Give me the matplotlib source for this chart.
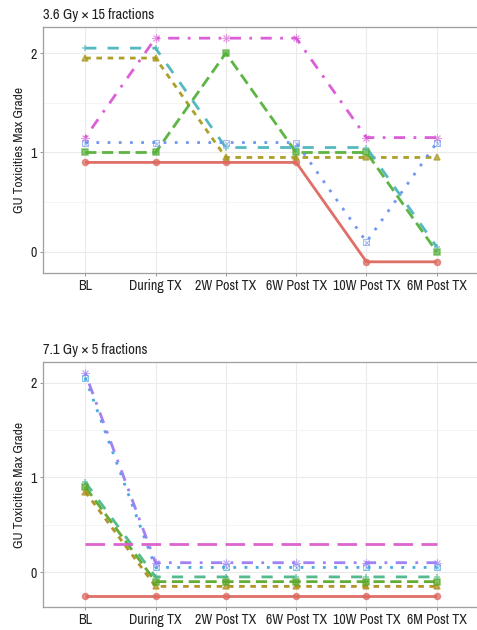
import numpy as np
import matplotlib.pyplot as plt
from matplotlib import font_manager

# cerca una famiglia stretta
stretti = [f for f in font_manager.fontManager.ttflist
           if "Narrow" in f.name or "ondensed" in f.name or f.stretch in ("condensed", "semi-condensed")]
nomi_stretti = sorted({(f.name, f.stretch) for f in stretti})
if nomi_stretti:
    plt.rcParams["font.family"] = [nomi_stretti[0][0], "DejaVu Sans"]
    plt.rcParams["font.stretch"] = nomi_stretti[0][1]

timepoints = ["BL", "During TX", "2W Post TX", "6W Post TX", "10W Post TX", "6M Post TX"]

# 3.6 Gy x 15 fractions (gia' sfalsati verticalmente)
top_red     = [0.90, 0.90, 0.90, 0.90, -0.10, -0.10]
top_olive   = [1.95, 1.95, 0.95, 0.95, 0.95, 0.95]
top_green   = [1.00, 1.00, 2.00, 1.00, 1.00, 0.00]
top_cyan    = [2.05, 2.05, 1.05, 1.05, 1.05, 0.05]
top_blue    = [1.10, 1.10, 1.10, 1.10, 0.10, 1.10]
top_magenta = [1.15, 2.15, 2.15, 2.15, 1.15, 1.15]

# 7.1 Gy x 5 fractions
bot_red     = [-0.25, -0.25, -0.25, -0.25, -0.25, -0.25]
bot_olive   = [0.85, -0.15, -0.15, -0.15, -0.15, -0.15]
bot_green   = [0.90, -0.10, -0.10, -0.10, -0.10, -0.10]
bot_teal    = [0.95, -0.05, -0.05, -0.05, -0.05, -0.05]
bot_blue    = [2.05, 0.05, 0.05, 0.05, 0.05, 0.05]
bot_purple  = [2.10, 0.10, 0.10, 0.10, 0.10, 0.10]
bot_magenta = [0.30, 0.30, 0.30, 0.30, 0.30, 0.30]

dash_types = [None, (2, 2), (4, 2), (4, 4), (1, 3), (1, 3, 4, 3), (7, 3)]
shapes = ["o", "^", "s", "+", "boxx", "ast", None]

top_series = [top_red, top_olive, top_green, top_cyan, top_blue, top_magenta]
top_colors = ["#DD685F", "#A89A1E", "#55B13A", "#4DB6BD", "#6A93F0", "#D957D6"]

bot_series = [bot_red, bot_olive, bot_green, bot_teal, bot_blue, bot_purple, bot_magenta]
bot_colors = ["#DD685F", "#B08E1E", "#5AA92A", "#4CB788", "#3FA6E0", "#9C7BF5", "#DB5CCB"]

W, H = 477, 630
fig = plt.figure(figsize=(W / 72, H / 72), dpi=72)


def pannello(top_px, bot_px, serie, colori, titolo):
    ax = fig.add_axes([43 / W, 1 - bot_px / H, 436 / W, (bot_px - top_px) / H])
    x = np.arange(1, len(timepoints) + 1)
    lw = 2.8
    for i, (y, c) in enumerate(zip(serie, colori)):
        ln, = ax.plot(x, y, color=c, lw=lw, alpha=0.95, solid_capstyle="butt", zorder=3)
        if dash_types[i] is not None:
            ln.set_dashes(dash_types[i])
        m = shapes[i]
        if m == "boxx":
            ax.plot(x, y, ls="none", marker="s", mfc="none", mec=c, ms=6, mew=1, alpha=0.6, zorder=4)
            ax.plot(x, y, ls="none", marker="x", color=c, ms=5, mew=1, alpha=0.6, zorder=4)
        elif m == "ast":
            ax.plot(x, y, ls="none", marker=(8, 2, 0), color=c, ms=8, mew=1, alpha=0.6, zorder=4)
        elif m is not None:
            ax.plot(x, y, ls="none", marker=m, color=c, ms=6, mew=1.5, alpha=0.7, zorder=4)

    tutti = np.concatenate([np.asarray(s) for s in serie])
    lo, hi = tutti.min(), tutti.max()
    pad = 0.05 * (hi - lo)
    ax.set_ylim(lo - pad, hi + pad)
    ax.set_xlim(0.4, len(timepoints) + 0.6)
    ax.set_xticks(x)
    ax.set_xticklabels(timepoints)
    ax.set_yticks([0, 1, 2])
    ax.set_yticks([0.5, 1.5], minor=True)
    ax.grid(True, which="major", color="#EBEBEB", lw=1.1, zorder=0)
    ax.grid(True, which="minor", axis="y", color="#F2F2F2", lw=0.8, zorder=0)
    ax.set_axisbelow(True)
    ax.tick_params(axis="both", which="major", length=3, width=1, color="#999999",
                   labelsize=14, labelcolor="#222222", pad=3)
    ax.tick_params(axis="y", which="minor", length=0)
    for s in ax.spines.values():
        s.set_color("#A0A0A0")
        s.set_linewidth(1.3)
    fig.text(43 / W, 1 - (top_px - 12) / H, titolo, fontsize=14.5, color="#222222",
             ha="left", va="center")
    fig.text(20 / W, 1 - (top_px + bot_px) / 2 / H, "GU Toxicities Max Grade",
             fontsize=13.5, color="#222222", rotation=90, ha="center", va="center")
    return ax


pannello(27, 273, top_series, top_colors, "3.6 Gy \u00d7 15 fractions")
pannello(362, 607, bot_series, bot_colors, "7.1 Gy \u00d7 5 fractions")

fig.savefig("out.png", dpi=72)
